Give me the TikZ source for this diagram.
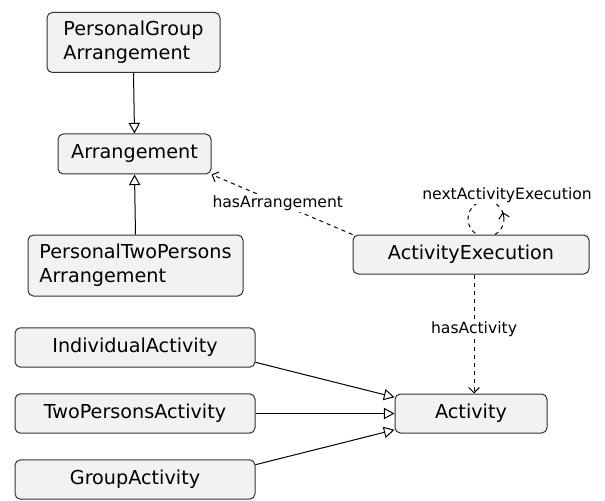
\documentclass[tikz,border=0pt]{standalone}
\usepackage{fontspec}
\setmainfont{DejaVu Sans}
\usetikzlibrary{arrows.meta}
\tikzset{
	cls/.style={draw=black!80,fill=black!5,rounded corners=4pt,line width=0.75pt,
		font=\fontsize{14.4}{18.3}\selectfont,align=left,inner sep=0pt},
	lbl/.style={fill=white,inner sep=1pt,font=\fontsize{11.7}{14}\selectfont},
	isa/.style={-{Triangle[open,length=8pt,width=8.5pt]},line width=0.75pt},
	rel/.style={-{Straight Barb[length=4pt,width=8pt]},dashed,line width=0.75pt},
}
\begin{document}
\begin{tikzpicture}[x=0.75pt,y=0.75pt]
							\useasboundingbox (0,0) rectangle (605,500);
							% 类节点
							\node[cls,minimum width=129.75pt,minimum height=45pt] (pga) at (133.5,457.5) {PersonalGroup\\Arrangement};
							\node[cls,minimum width=114.75pt,minimum height=30pt] (arr) at (134.5,346) {Arrangement};
							\node[cls,minimum width=161.25pt,minimum height=45.75pt] (ptpa) at (135.5,234.5) {PersonalTwoPersons\\Arrangement};
							\node[cls,minimum width=177pt,minimum height=29.25pt] (exec) at (471,245.5) {ActivityExecution};
							\node[cls,minimum width=180pt,minimum height=29.5pt] (ind) at (135,152.5) {IndividualActivity};
							\node[cls,minimum width=180pt,minimum height=29.5pt] (two) at (135,86.5) {TwoPersonsActivity};
							\node[cls,minimum width=180pt,minimum height=29.5pt] (grp) at (135,20.5) {GroupActivity};
							\node[cls,minimum width=114pt,minimum height=29.25pt] (act) at (471,86.5) {Activity};
							% 继承
							\draw[isa] (pga.south) -- (arr.north);
							\draw[isa] (ptpa.north) -- (arr.south);
							\draw[isa] (ind.-7.4) -- (act.168);
							\draw[isa] (two.east) -- (act.west);
							\draw[isa] (grp.7.4) -- (act.192);
							% 关联
							\draw[rel] (exec.north west) -- node[lbl,pos=0.53] {hasArrangement} (arr.south east);
							\draw[rel] ([xshift=2.25pt]exec.south) -- node[lbl,pos=0.46] {hasActivity} ([xshift=2.25pt]act.north);
							% 自环
							\coordinate (loopc) at ([shift={(15,15.6)}]exec.north);
							\draw[dashed,line width=0.75pt] ([shift={(-60:18)}]loopc) arc[start angle=-60,end angle=240,radius=18];
							\draw[rel,solid] ([shift={(4:18)}]loopc) -- ([shift={(22:18)}]loopc);
							\node[lbl] (next) at (507,305) {nextActivityExecution};
						\end{tikzpicture}
\end{document}
